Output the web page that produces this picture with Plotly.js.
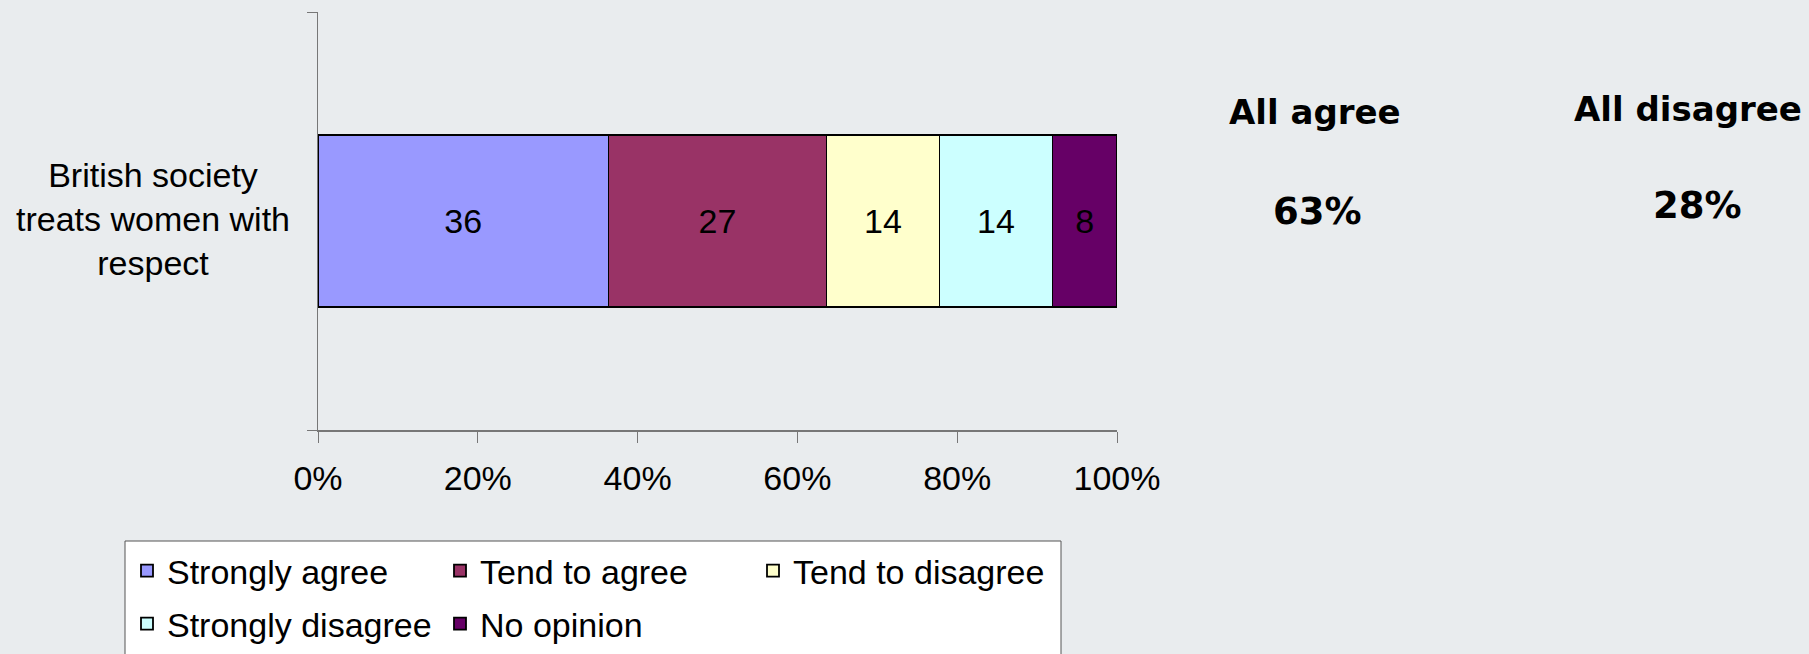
<!DOCTYPE html>
<html>
<head>
<meta charset="utf-8">
<script src="https://cdn.plot.ly/plotly-3.0.1.min.js"></script>
<style>html,body{margin:0;padding:0;background:#e9ecee;}</style>
</head>
<body>
<div id="chart" style="width:1809px;height:654px;"></div>
<script>
const categories = ["British society treats women with respect"];
const categoryLabel = "British society<br>treats women with<br>respect";
const seriesNames = ["Strongly agree", "Tend to agree", "Tend to disagree", "Strongly disagree", "No opinion"];
const seriesValues = [[36], [27], [14], [14], [8]];
const seriesColors = ["#9999ff", "#993366", "#ffffcc", "#ccffff", "#660066"];
const legendRow = ["legend", "legend", "legend", "legend2", "legend2"];
const xTickVals = [0, 20, 40, 60, 80, 100];
const summaryHeads = ["All agree", "All disagree"];
const summaryValues = ["63%", "28%"];

const AR = "Liberation Sans, Arial, sans-serif";
const BOLD = "DejaVu Sans, Verdana, sans-serif";

const traces = seriesNames.map((name, i) => ({
  type: "bar",
  orientation: "h",
  name: name,
  legend: legendRow[i],
  y: categories,
  x: seriesValues[i],
  text: seriesValues[i].map(String),
  textposition: "inside",
  insidetextanchor: "middle",
  textangle: 0,
  constraintext: "none",
  textfont: {family: AR, size: 34, color: "#000000"},
  marker: {color: seriesColors[i], line: {color: "#000000", width: 1.8}},
  width: 0.41,
  hoverinfo: "skip"
}));

const L = 318, R = 1117, T = 12, B = 430;
const px = v => (v - L) / (R - L);
const py = v => (B - v) / (B - T);

const legendCommon = {
  orientation: "h",
  traceorder: "normal",
  xanchor: "left",
  yanchor: "top",
  bgcolor: "rgba(0,0,0,0)",
  borderwidth: 0,
  entrywidth: 268,
  font: {family: AR, size: 34, color: "#000000"}
};

const layout = {
  width: 1809,
  height: 654,
  margin: {l: L, r: 1809 - R, t: T, b: 654 - B, pad: 0, autoexpand: false},
  paper_bgcolor: "#e9ecee",
  plot_bgcolor: "#e9ecee",
  barmode: "stack",
  barnorm: "percent",
  showlegend: true,
  hovermode: false,
  font: {family: AR, size: 34, color: "#000000"},
  xaxis: {
    range: [0, 100],
    tickvals: xTickVals,
    ticktext: xTickVals.map(v => v + "%"),
    ticks: "outside",
    ticklen: 11,
    tickcolor: "#777777",
    tickwidth: 1,
    ticklabelstandoff: 7,
    showline: true,
    linecolor: "#777777",
    linewidth: 1.5,
    showgrid: false,
    zeroline: false,
    tickfont: {family: AR, size: 34, color: "#000000"},
    fixedrange: true
  },
  yaxis: {
    type: "category",
    range: [-0.5, 0.5],
    showline: true,
    linecolor: "#777777",
    linewidth: 1.5,
    ticks: "outside",
    tickson: "boundaries",
    ticklen: 10,
    tickcolor: "#777777",
    showticklabels: false,
    showgrid: false,
    zeroline: false,
    fixedrange: true
  },
  legend: Object.assign({}, legendCommon, {x: px(127), y: py(542)}),
  legend2: Object.assign({}, legendCommon, {x: px(127), y: py(595)}),
  shapes: [
    {type: "rect", xref: "paper", yref: "paper", layer: "above",
     x0: px(125), x1: px(1061), y0: py(541), y1: py(680),
     fillcolor: "#ffffff", line: {color: "#555555", width: 1}}
  ],
  annotations: [
    {xref: "paper", yref: "y", x: px(153), y: categories[0], text: categoryLabel, showarrow: false,
     xanchor: "center", yanchor: "middle", align: "center", yshift: 2,
     font: {family: AR, size: 34, color: "#000000"}},
    {xref: "paper", yref: "paper", x: px(1315), y: py(112), text: "<b>" + summaryHeads[0] + "</b>", showarrow: false,
     xanchor: "center", yanchor: "middle", font: {family: BOLD, size: 34, color: "#000000"}},
    {xref: "paper", yref: "paper", x: px(1317), y: py(211), text: "<b>" + summaryValues[0] + "</b>", showarrow: false,
     xanchor: "center", yanchor: "middle", font: {family: BOLD, size: 37, color: "#000000"}},
    {xref: "paper", yref: "paper", x: px(1688), y: py(109), text: "<b>" + summaryHeads[1] + "</b>", showarrow: false,
     xanchor: "center", yanchor: "middle", font: {family: BOLD, size: 34, color: "#000000"}},
    {xref: "paper", yref: "paper", x: px(1697), y: py(205), text: "<b>" + summaryValues[1] + "</b>", showarrow: false,
     xanchor: "center", yanchor: "middle", font: {family: BOLD, size: 37, color: "#000000"}}
  ]
};

Plotly.newPlot("chart", traces, layout, {displayModeBar: false, staticPlot: true});
</script>
</body>
</html>
